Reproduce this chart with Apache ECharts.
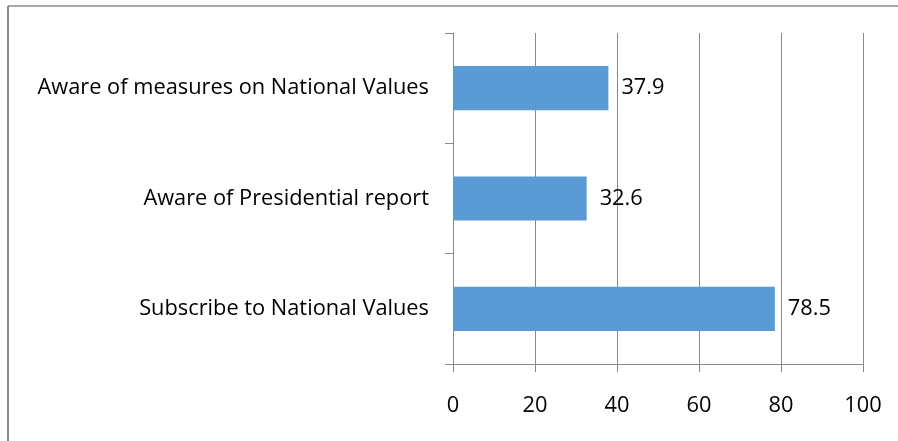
<!DOCTYPE html>
<html><head><meta charset="utf-8">
<script src="https://cdn.jsdelivr.net/npm/echarts@6/dist/echarts.min.js"></script>
<style>html,body{margin:0;padding:0;background:#fff}#c{width:898px;height:441px}</style>
</head><body><div id="c"></div>
<script>
const categories = ["Subscribe to National Values", "Aware of Presidential report", "Aware of measures on National Values"];
const values = [78.5, 32.6, 37.9];
const xTicks = [0, 20, 40, 60, 80, 100];

const chart = echarts.init(document.getElementById('c'), null, {renderer: 'canvas'});
const font = "Open Sans";
chart.setOption({
  animation: false,
  grid: {left: 453, right: 35, top: 33, bottom: 77, containLabel: false},
  xAxis: {
    type: 'value', min: xTicks[0], max: xTicks[xTicks.length-1], interval: 20,
    axisLine: {show: true, lineStyle: {color: '#888', width: 1}},
    axisTick: {show: true, length: 8, lineStyle: {color: '#888'}},
    splitLine: {show: true, lineStyle: {color: '#888', width: 1}},
    axisLabel: {color: '#000', fontSize: 21.8, fontFamily: font, margin: 31}
  },
  yAxis: {
    type: 'category', data: categories,
    axisLine: {show: true, onZero: false, lineStyle: {color: '#888', width: 1}},
    axisTick: {show: true, length: 8, inside: false, lineStyle: {color: '#888'}},
    axisLabel: {color: '#000', fontSize: 21.8, fontFamily: font, margin: 24}
  },
  series: [{
    type: 'bar', data: values, barWidth: '40%',
    itemStyle: {color: '#5B9BD5'},
    label: {show: true, position: 'right', distance: 13, color: '#000', fontSize: 21.8, fontFamily: font}
  }],
  graphic: [
    {type: 'line', shape: {x1: 8, y1: 6, x2: 898, y2: 6}, style: {stroke: '#888', lineWidth: 1.5}},
    {type: 'line', shape: {x1: 8, y1: 6, x2: 8, y2: 441}, style: {stroke: '#888', lineWidth: 2}}
  ]
});
</script></body></html>
